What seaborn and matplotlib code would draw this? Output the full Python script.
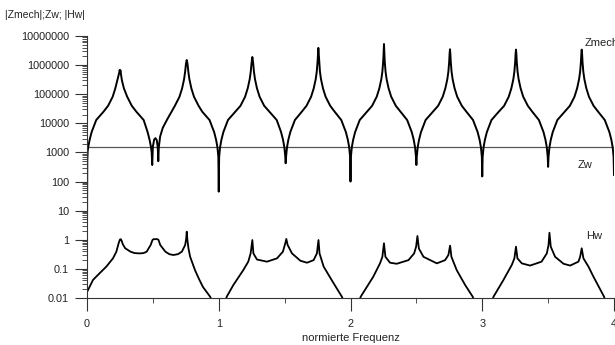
import pandas as pd
import matplotlib
matplotlib.use("Agg")
import matplotlib.pyplot as plt
import matplotlib.ticker as mticker
import seaborn as sns

# |Zmech|, arch by arch (normierte Frequenz, value)
zmech_f = [
    0.0, 0.002, 0.005, 0.01, 0.02, 0.035, 0.07, 0.125, 0.16, 0.195, 0.215, 0.23, 0.24, 0.245,
    0.248, 0.251, 0.254, 0.258, 0.265, 0.28, 0.305, 0.34, 0.375, 0.43, 0.46, 0.475, 0.485, 0.491,
    0.495, 0.5, 0.51, 0.52, 0.53, 0.537, 0.541, 0.545, 0.555, 0.575, 0.61, 0.667, 0.702, 0.722,
    0.737, 0.745, 0.751, 0.757, 0.763, 0.769, 0.777, 0.792, 0.812, 0.847, 0.875, 0.93, 0.965,
    0.98, 0.99, 0.997, 1.0,
    1.003, 1.01, 1.02, 1.035, 1.07, 1.125, 1.165, 1.2, 1.22, 1.235, 1.243, 1.249, 1.255, 1.261,
    1.267, 1.275, 1.29, 1.31, 1.345, 1.385, 1.44, 1.473, 1.488, 1.498, 1.504, 1.508, 1.512,
    1.518, 1.528, 1.543, 1.578, 1.63, 1.666, 1.701, 1.721, 1.736, 1.744, 1.75, 1.753, 1.756,
    1.759, 1.762, 1.768, 1.776, 1.791, 1.811, 1.846, 1.88, 1.93, 1.965, 1.98, 1.99, 1.997, 2.0,
    2.003, 2.01, 2.02, 2.035, 2.07, 2.125, 2.164, 2.199, 2.219, 2.234, 2.242, 2.248, 2.251, 2.254,
    2.257, 2.26, 2.266, 2.274, 2.289, 2.309, 2.344, 2.38, 2.43, 2.465, 2.48, 2.49, 2.497, 2.5,
    2.503, 2.51, 2.52, 2.535, 2.57, 2.625, 2.665, 2.7, 2.72, 2.735, 2.743, 2.749, 2.752, 2.755,
    2.758, 2.761, 2.767, 2.775, 2.79, 2.81, 2.845, 2.88, 2.93, 2.965, 2.98, 2.99, 2.997, 3.0,
    3.003, 3.01, 3.02, 3.035, 3.07, 3.125, 3.166, 3.201, 3.221, 3.236, 3.244, 3.25, 3.253, 3.256,
    3.259, 3.262, 3.268, 3.276, 3.291, 3.311, 3.346, 3.38, 3.43, 3.465, 3.48, 3.49, 3.497, 3.5,
    3.503, 3.51, 3.52, 3.535, 3.57, 3.625, 3.665, 3.7, 3.72, 3.735, 3.743, 3.749, 3.752, 3.755,
    3.758, 3.761, 3.767, 3.775, 3.79, 3.81, 3.845, 3.88, 3.93, 3.965, 3.98, 3.99, 3.997, 4.0,
]
zmech_v = [
    2, 500, 1100, 1600, 2700, 5000, 13000, 25000, 40000, 82000, 160000, 300000, 450000, 560000,
    680000, 590000, 660000, 480000, 300000, 160000, 82000, 40000, 25000, 13000, 5000, 2700, 1600, 1000,
    370, 1600, 2800, 3100, 2600, 1500, 500, 1500, 3500, 7000, 14000, 40000, 82000, 160000,
    330000, 600000, 1100000, 1500000, 1100000, 600000, 330000, 160000, 82000, 40000, 25000, 13000, 5000,
    2700, 1500, 700, 45,
    700, 1500, 2700, 5000, 13000, 25000, 40000, 82000, 160000, 330000, 600000, 1200000, 1900000, 1200000,
    600000, 330000, 160000, 82000, 40000, 25000, 13000, 5000, 2700, 1500, 800, 425, 800,
    1500, 2700, 5000, 13000, 25000, 40000, 82000, 160000, 330000, 600000, 1300000, 2400000, 3900000,
    2400000, 1300000, 600000, 330000, 160000, 82000, 40000, 25000, 13000, 5000, 2700, 1500, 700, 100,
    700, 1500, 2700, 5000, 13000, 25000, 40000, 82000, 160000, 330000, 600000, 1300000, 2400000, 5300000,
    2400000, 1300000, 600000, 330000, 160000, 82000, 40000, 25000, 13000, 5000, 2700, 1500, 700, 370,
    700, 1500, 2700, 5000, 13000, 25000, 40000, 82000, 160000, 330000, 600000, 1300000, 2400000, 3500000,
    2400000, 1300000, 600000, 330000, 160000, 82000, 40000, 25000, 13000, 5000, 2700, 1500, 700, 150,
    700, 1500, 2700, 5000, 13000, 25000, 40000, 82000, 160000, 330000, 600000, 1300000, 2400000, 3400000,
    2400000, 1300000, 600000, 330000, 160000, 82000, 40000, 25000, 13000, 5000, 2700, 1500, 700, 320,
    700, 1500, 2700, 5000, 13000, 25000, 40000, 82000, 160000, 330000, 600000, 1300000, 2400000, 3400000,
    2400000, 1300000, 600000, 330000, 160000, 82000, 40000, 25000, 13000, 5000, 2700, 1500, 700, 165,
]

# Zw: constant level
zw_f = [0.0, 4.0]
zw_v = [1500, 1500]

# |Hw|, four separate arches
hw1_f = [0.0, 0.046, 0.096, 0.147, 0.197, 0.223, 0.24, 0.25, 0.256, 0.262, 0.272, 0.29, 0.33, 0.36,
         0.40, 0.43, 0.453, 0.483, 0.497, 0.505, 0.535, 0.543, 0.556, 0.595, 0.625, 0.655, 0.69,
         0.72, 0.745, 0.753, 0.757, 0.762, 0.77, 0.783, 0.82, 0.85, 0.88, 0.935, 0.955]
hw1_v = [0.016, 0.042, 0.071, 0.12, 0.23, 0.39, 0.76, 1.02, 1.05, 0.95, 0.7, 0.51, 0.39, 0.35,
         0.34, 0.35, 0.39, 0.66, 0.98, 1.05, 1.05, 0.98, 0.66, 0.39, 0.32, 0.3, 0.32,
         0.39, 0.66, 1.1, 1.9, 1.0, 0.51, 0.26, 0.09, 0.045, 0.024, 0.011, 0.007]
hw2_f = [1.05, 1.06, 1.111, 1.187, 1.224, 1.242, 1.255, 1.263, 1.29, 1.366, 1.442, 1.487, 1.505,
         1.513, 1.523, 1.556, 1.62, 1.67, 1.72, 1.745, 1.757, 1.765, 1.796, 1.872, 1.935, 1.95]
hw2_v = [0.007, 0.011, 0.028, 0.092, 0.177, 0.34, 0.98, 0.34, 0.21, 0.177, 0.23, 0.39, 0.76,
         1.07, 0.66, 0.34, 0.19, 0.163, 0.2, 0.34, 0.98, 0.34, 0.12, 0.032, 0.011, 0.007]
hw3_f = [2.065, 2.077, 2.173, 2.224, 2.242, 2.254, 2.265, 2.3, 2.351, 2.44, 2.483, 2.498, 2.508,
         2.519, 2.554, 2.655, 2.718, 2.743, 2.756, 2.766, 2.806, 2.87, 2.928, 2.94]
hw3_v = [0.007, 0.011, 0.054, 0.155, 0.26, 0.76, 0.26, 0.163, 0.15, 0.2, 0.34, 0.58, 1.35,
         0.5, 0.26, 0.155, 0.2, 0.3, 0.63, 0.26, 0.091, 0.028, 0.011, 0.007]
hw4_f = [3.075, 3.085, 3.16, 3.224, 3.244, 3.256, 3.267, 3.3, 3.363, 3.45, 3.49, 3.503, 3.51,
         3.52, 3.553, 3.617, 3.667, 3.73, 3.743, 3.755, 3.768, 3.806, 3.844, 3.925, 3.935]
hw4_v = [0.007, 0.011, 0.041, 0.136, 0.23, 0.58, 0.23, 0.155, 0.13, 0.177, 0.34, 0.66, 1.75,
         0.58, 0.26, 0.15, 0.13, 0.177, 0.26, 0.51, 0.23, 0.12, 0.054, 0.011, 0.007]

ytick_vals = [0.01, 0.1, 1, 10, 100, 1000, 10000, 100000, 1000000, 10000000]
ytick_labels = ["0.01", "0.1", "1", "10", "100", "1000", "10000", "100000", "1000000", "10000000"]
xtick_vals = [0, 1, 2, 3, 4]
xtick_labels = ["0", "1", "2", "3", "4"]

hw = pd.concat([
    pd.DataFrame({"f": hw1_f, "v": hw1_v, "arch": 1}),
    pd.DataFrame({"f": hw2_f, "v": hw2_v, "arch": 2}),
    pd.DataFrame({"f": hw3_f, "v": hw3_v, "arch": 3}),
    pd.DataFrame({"f": hw4_f, "v": hw4_v, "arch": 4}),
], ignore_index=True)

sns.set_style("ticks")
plt.rcParams["font.family"] = ["Liberation Sans", "DejaVu Sans"]

fig = plt.figure(figsize=(6.15, 3.45), dpi=100)
ax = fig.add_axes([87 / 615, 47 / 345, 527 / 615, 262 / 345])
ax.set_yscale("log")

sns.lineplot(x=zw_f, y=zw_v, ax=ax, color="#555555", lw=0.9, estimator=None)
sns.lineplot(x=zmech_f, y=zmech_v, ax=ax, color="black", lw=1.4, estimator=None, sort=False)
sns.lineplot(data=hw, x="f", y="v", units="arch", estimator=None, ax=ax, color="black", lw=1.3)

ax.set_xlim(0, 4)
ax.set_ylim(0.01, 1e7)

# axes styling
for side in ["top", "right"]:
    ax.spines[side].set_visible(False)
for side in ["left", "bottom"]:
    ax.spines[side].set_color("#333333")
    ax.spines[side].set_linewidth(0.8)

ax.set_yticks(ytick_vals)
ax.set_yticklabels(ytick_labels)
ax.yaxis.set_minor_locator(mticker.LogLocator(base=10, subs=[2, 3, 4, 5, 6, 7, 8, 9], numticks=50))
ax.yaxis.set_minor_formatter(mticker.NullFormatter())
ax.set_xticks(xtick_vals)
ax.set_xticklabels(xtick_labels)
ax.xaxis.set_minor_locator(mticker.MultipleLocator(0.5))

ax.tick_params(axis="both", which="major", direction="out", length=9, width=0.8,
               color="#333333", labelsize=7.8, labelcolor="#222222")
ax.tick_params(axis="y", which="major", pad=4)
ax.tick_params(axis="x", which="major", pad=6)
ax.tick_params(axis="both", which="minor", direction="out", length=3.5, width=0.6, color="#333333")

ax.set_xlabel("normierte Frequenz", fontsize=8, color="#222222", labelpad=3)
ax.set_ylabel("")

ax.text(3.78, 5.7e6, "Zmech", fontsize=8, color="#222222", ha="left", va="center")
ax.text(3.727, 370, "Zw", fontsize=8, color="#222222", ha="left", va="center")
ax.text(3.787, 1.35, "Hw", fontsize=8, color="#222222", ha="left", va="center")

fig.text(5 / 615, 1 - 15 / 345, "|Zmech|;Zw; |Hw|", fontsize=7.5, color="#222222",
         ha="left", va="center")

fig.savefig("out.png", dpi=100)
